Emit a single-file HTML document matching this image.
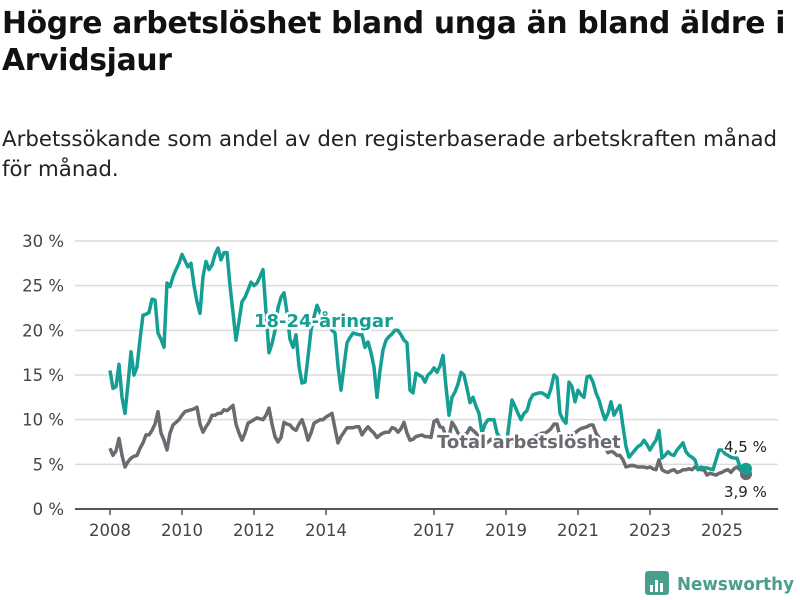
<!DOCTYPE html>
<html><head><meta charset="utf-8">
<style>
body{margin:0;background:#fff;font-family:"Liberation Sans","DejaVu Sans",sans-serif;}
#wrap{position:relative;width:800px;height:600px;overflow:hidden;}
h1{position:absolute;left:2px;top:5px;margin:0;font-family:"DejaVu Sans",sans-serif;font-size:29.8px;line-height:37px;font-weight:bold;color:#111;letter-spacing:-0.3px;width:800px;}
.sub{position:absolute;left:2px;top:125px;margin:0;font-family:"DejaVu Sans",sans-serif;font-size:21.3px;line-height:30px;color:#222;width:788px;}
svg{position:absolute;left:0;top:0;}
</style></head>
<body>
<div id="wrap">
<h1>Högre arbetslöshet bland unga än bland äldre i Arvidsjaur</h1>
<p class="sub">Arbetssökande som andel av den registerbaserade arbetskraften månad för månad.</p>
<svg id="chart" width="800" height="600"></svg>
</div>
<script>
const yTicks=[0,5,10,15,20,25,30];
const yTickLabels=["0 %","5 %","10 %","15 %","20 %","25 %","30 %"];
const xTickYears=[2008,2010,2012,2014,2017,2019,2021,2023,2025];
const youth=[
15.5,13.5,13.7,16.2,12.5,10.7,14,17.6,15,15.9,19,21.7,
21.8,22,23.5,23.4,19.7,19,18.1,25.3,24.9,26,26.8,27.5,
28.5,27.8,27.1,27.5,25,23.2,21.9,26,27.7,26.8,27.3,28.5,
29.2,27.9,28.7,28.7,25,22,18.9,21,23.2,23.7,24.5,25.4,
25,25.3,26,26.8,22,17.5,18.5,20,22.5,23.7,24.2,22,
19,18.1,19.5,16,14.1,14.2,17,20,21.5,22.8,22,21.5,
21,20.8,20,19.7,16,13.3,16,18.6,19.2,19.7,19.6,19.5,
19.5,18.1,18.7,17.5,15.9,12.5,15.5,17.8,18.9,19.3,19.6,20,
20,19.5,18.9,18.6,13.3,13,15.2,15,14.8,14.2,15,15.3,
15.8,15.3,16,17.2,13.7,10.5,12.5,13.1,14,15.3,15,13.5,
11.9,12.5,11.5,10.7,8.5,9.5,10,10,10,8.5,8,7.5,
6.9,9.5,12.2,11.5,10.7,10,10.7,11,12.2,12.8,12.9,13,
13,12.8,12.5,13.5,15,14.7,10.7,10,9.6,14.2,13.7,12,
13.3,12.8,12.5,14.8,14.9,14.2,13,12.2,11,10,10.7,12,
10.5,11.1,11.6,9.2,7,5.8,6.2,6.6,7,7.2,7.7,7.2,
6.6,7.2,7.7,8.8,5.7,6,6.4,6.1,6,6.6,7,7.4,
6.4,6,5.8,5.5,4.4,4.7,4.6,4.6,4.5,4.4,5.5,6.6,
6.6,6.2,6,5.8,5.7,5.7,4.7,4.5,4.5];
const total=[
6.8,6,6.5,7.9,6,4.7,5.3,5.7,5.9,6,6.8,7.4,
8.3,8.3,8.8,9.5,10.9,8.5,7.7,6.6,8.5,9.4,9.7,10,
10.5,10.9,11,11.1,11.2,11.4,9.5,8.6,9.2,9.7,10.5,10.5,
10.7,10.7,11.1,11,11.3,11.6,9.5,8.5,7.7,8.5,9.6,9.8,
10,10.2,10.1,10,10.5,11.3,9.5,8.1,7.5,8,9.7,9.5,
9.4,9,8.8,9.5,10,9,7.7,8.5,9.6,9.8,10,10,
10.3,10.5,10.7,9,7.4,8.1,8.6,9.1,9.1,9.1,9.2,9.2,
8.3,8.8,9.2,8.8,8.5,8,8.3,8.5,8.6,8.6,9.1,9,
8.6,9,9.7,8.5,7.7,7.8,8.1,8.2,8.3,8.1,8.1,8,
9.8,10,9.2,9.1,8,8,9.7,9.2,8.5,8.2,8.3,8.5,
9.1,8.8,8.5,8,7.5,7.3,7.5,7.8,7.5,7.3,7,6.8,
6.8,7.2,7.5,7.7,7.3,7,7.3,7.5,7.8,8,8.2,8.3,
8.5,8.5,8.7,9,9.5,9.5,8,7.5,7.8,8.3,8.5,8.5,
8.8,9,9.1,9.2,9.4,9.4,8.5,8,7.5,7,6.3,6.5,
6.3,6,6,5.5,4.7,4.8,4.9,4.8,4.7,4.7,4.7,4.6,
4.7,4.5,4.4,5.5,4.4,4.2,4.1,4.3,4.4,4.1,4.2,4.4,
4.4,4.5,4.4,4.7,4.5,4.4,4.4,3.8,4,3.9,3.8,4,
4.1,4.3,4.4,4.1,4.5,4.7,4.4,4.1,3.9];
const youthEndLabel="4,5 %";
const totalEndLabel="3,9 %";

const NS="http://www.w3.org/2000/svg";
const svg=document.getElementById('chart');
const X0=75,X1=778,Y0=509,YTOP=241;
function xm(i){return 110+3*i;}
function xy(year){return xm((year-2008)*12);}
function ys(v){return Y0-(v/30)*(Y0-YTOP);}
function mk(tag,attrs){const e=document.createElementNS(NS,tag);for(const k in attrs)e.setAttribute(k,attrs[k]);svg.appendChild(e);return e;}

yTicks.forEach((t,i)=>{
  if(t>0){const g=mk('line',{x1:X0,x2:X1,y1:ys(t),y2:ys(t),stroke:'#dcdcdc','stroke-width':1.5});
  
  }
  const l=mk('text',{x:64,y:ys(t)+6,'text-anchor':'end','font-size':16.5,fill:'#444','font-family':'DejaVu Sans, sans-serif'});
  l.textContent=yTickLabels[i];
  
  
});
const ax=mk('line',{x1:X0,x2:X1,y1:Y0,y2:Y0,stroke:'#555','stroke-width':2});


xTickYears.forEach(yr=>{
  const tk=mk('line',{x1:xy(yr),x2:xy(yr),y1:Y0,y2:Y0+6,stroke:'#555','stroke-width':1.5});
  
  
  const l=mk('text',{x:xy(yr),y:Y0+27,'text-anchor':'middle','font-size':16.5,fill:'#444','font-family':'DejaVu Sans, sans-serif'});
  l.textContent=yr;
  
  
});
function line(arr,color,name){
  const d=arr.map((v,i)=>(i?'L':'M')+xm(i)+','+ys(v).toFixed(1)).join('');
  const p=mk('path',{d:d,fill:'none',stroke:color,'stroke-width':3.5,'stroke-linejoin':'round'});
  
  
  const n=arr.length-1;
  const c=mk('circle',{cx:xm(n),cy:ys(arr[n]),r:6,fill:color});
  
  
}
line(total,'#6b6a70','total-line');
line(youth,'#159e93','youth-line');
function lab(txt,x,y,color,name,size,bold,halo){
  const t=mk('text',{x:x,y:y,'font-size':size,fill:color,'font-weight':bold?'bold':'normal','font-family':'DejaVu Sans, sans-serif',stroke:'#fff','stroke-width':halo,'paint-order':'stroke','stroke-linejoin':'round'});
  t.textContent=txt;
  
  
  return t;
}
lab('18-24-åringar',254,327,'#159e93','youth-series-label',18,true,5);
lab('Total arbetslöshet',437,448,'#6b6a70','total-series-label',18,true,5);
lab(youthEndLabel,724,452,'#222','youth-end-value',15,false,3);
lab(totalEndLabel,724,497,'#222','total-end-value',15,false,3);
const lg=mk('rect',{x:645,y:571,width:24,height:24,rx:3,fill:'#4a9e8e'});


[[650,585,3,7],[655,580,3,12],[660,583,3,9]].forEach(b=>{const r=mk('rect',{x:b[0],y:b[1],width:b[2],height:b[3],fill:'#fff'});

});
const lt=mk('text',{x:677,y:590,'font-size':18,'font-weight':'bold',fill:'#4a9e8e','font-family':'DejaVu Sans, sans-serif',textLength:117,lengthAdjust:'spacingAndGlyphs'});
lt.textContent='Newsworthy';


</script>
</body></html>
